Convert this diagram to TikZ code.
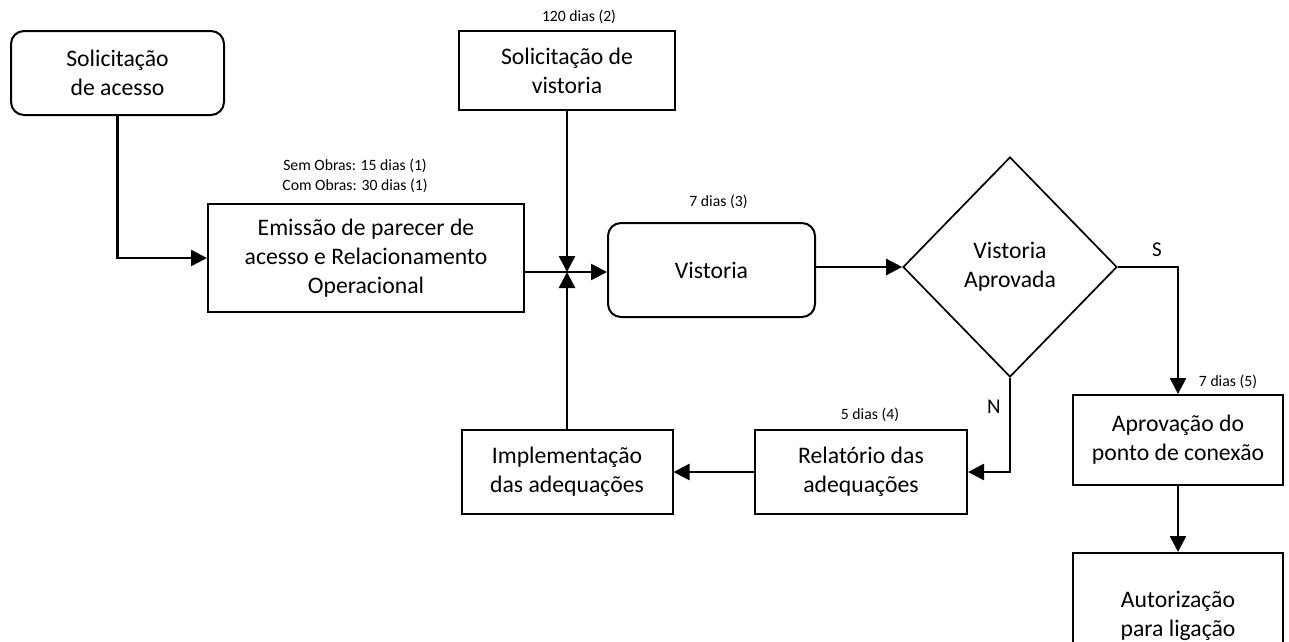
\documentclass[tikz,border=0pt]{standalone}
\usepackage{fontspec}
\setmainfont{Carlito}
\usepackage{tikz}
\usetikzlibrary{arrows.meta,shapes.geometric}

\begin{document}
\begin{tikzpicture}[x=1pt, y=-1pt,
    every node/.style={font=\fontsize{23.7}{29}\selectfont, align=center, inner sep=2pt},
    boxn/.style={draw=black, line width=2pt, rectangle, minimum width=212pt, minimum height=84pt},
    rbox/.style={boxn, rounded corners=13pt},
    dec/.style={draw=black, line width=1.7pt, diamond, aspect=0.97, minimum width=214pt, minimum height=220pt, inner sep=0pt},
    note/.style={font=\fontsize{15.7}{20}\selectfont, inner sep=0pt},
    yn/.style={font=\fontsize{21}{25}\selectfont, inner sep=0pt},
    arr/.style={-{Triangle[length=16pt,width=16pt]}, line width=2.6pt, draw=black}]
\useasboundingbox (0,0) rectangle (1289,641);
% blocos
\node[rbox, minimum width=213pt] (acesso) at (117.5,73) {Solicitação\\de acesso};
\node[boxn, minimum width=316pt, minimum height=108pt] (emissao) at (366,258) {Emissão de parecer de\\acesso e Relacionamento\\Operacional};
\node[boxn, minimum width=216pt, minimum height=79pt] (vistsol) at (567,70.5) {Solicitação de\\vistoria};
\node[rbox, minimum width=207pt, minimum height=94pt] (vistoria) at (711.5,270) {Vistoria};
\node[dec] (decisao) at (1010,267) {Vistoria\\Aprovada};
\node[boxn, minimum width=210pt, minimum height=90pt] (aprov) at (1178,440) {Aprovação do\\ponto de conexão};
\node[boxn, minimum width=210pt, minimum height=126pt] (autor) at (1178,616) {Autorização\\para ligação};
\node[boxn] (relat) at (861,472) {Relatório das\\adequações};
\node[boxn, minimum width=211pt] (implem) at (567,472) {Implementação\\das adequações};
% prazos
\node[note] (p1) at (355,176) {Sem Obras: 15 dias (1)\\Com Obras: 30 dias (1)};
\node[note] (p2) at (579,17) {120 dias (2)};
\node[note] (p3) at (718.5,202) {7 dias (3)};
\node[note] (p4) at (870,415) {5 dias (4)};
\node[note] (p5) at (1228,382) {7 dias (5)};
\node[yn] (lbs) at (1157,250) {S};
\node[yn] (lbn) at (994,407) {N};
% ligacoes
\coordinate (jn) at (567,272);
\draw[arr] (acesso.south) |- (emissao.west);
\draw[arr] (emissao.east |- jn) -- (vistoria.west |- jn);
\draw[arr] (vistsol.south) -- (jn);
\draw[arr] (implem.north) -- (jn);
\draw[arr] (vistoria.east |- decisao.west) -- (decisao.west);
\draw[arr] (decisao.east) -| (aprov.north);
\draw[arr] (decisao.south) |- (relat.east);
\draw[arr] (relat.west) -- (implem.east);
\draw[arr] (aprov.south) -- (autor.north);
\end{tikzpicture}
\end{document}
